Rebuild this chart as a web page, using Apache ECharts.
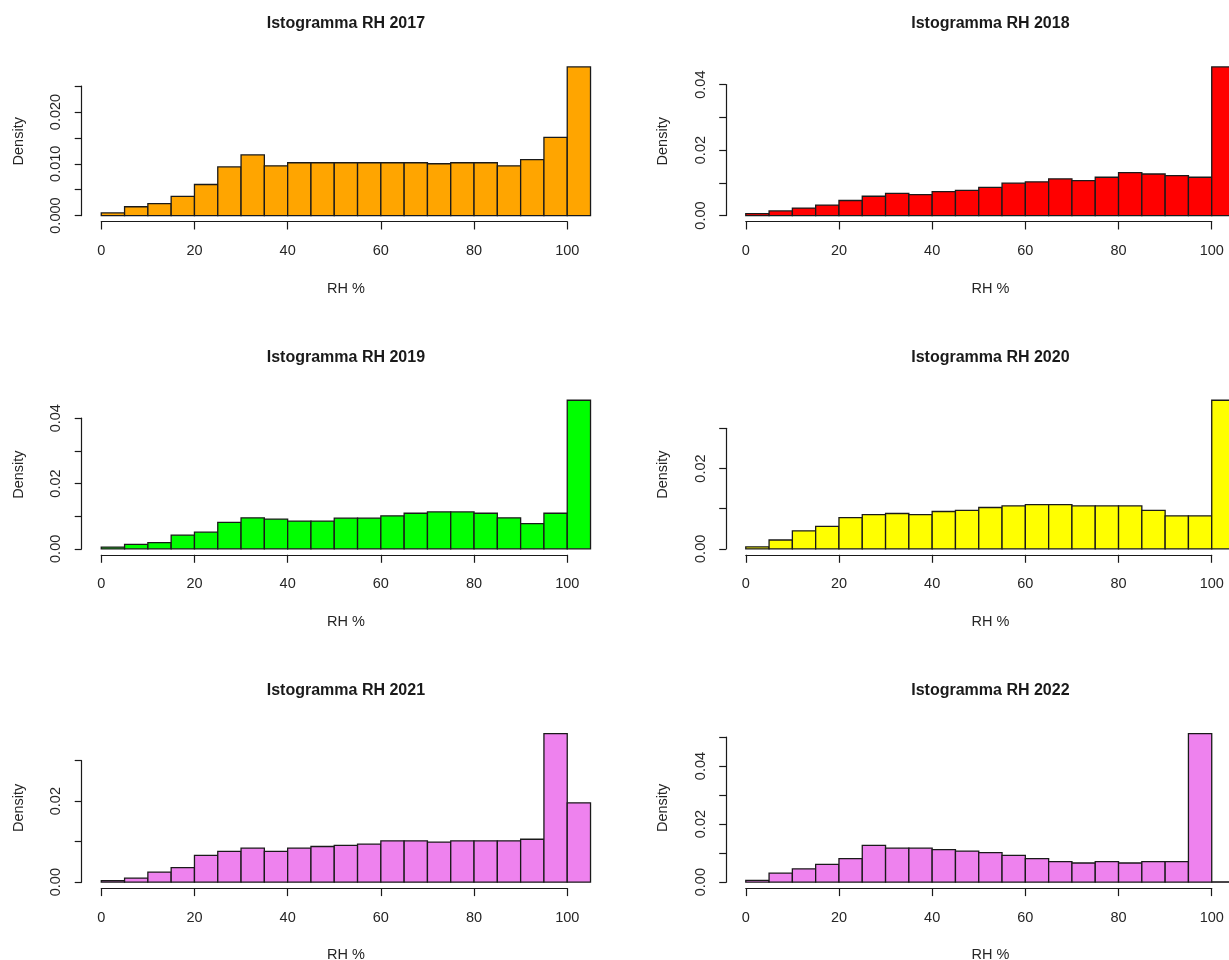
<!DOCTYPE html>
<html>
<head>
<meta charset="utf-8">
<title>Istogrammi RH 2017-2022</title>
<script src="https://cdn.jsdelivr.net/npm/echarts@6/dist/echarts.min.js"></script>
<style>
  html, body { margin: 0; padding: 0; background: #ffffff; }
  #chart { width: 1229px; height: 960px; }
</style>
</head>
<body>
<div id="chart"></div>
<script>
// Bin edges of the relative-humidity histograms (5 % wide bins)
const binEdges = [0, 5, 10, 15, 20, 25, 30, 35, 40, 45, 50, 55, 60, 65, 70, 75, 80, 85, 90, 95, 100, 105];

// Density of each bin, one array per year
const density2017 = [0.0005, 0.0017, 0.0023, 0.0037, 0.0060, 0.0094, 0.0117, 0.0096, 0.0102, 0.0102, 0.0102,
                     0.0102, 0.0102, 0.0102, 0.0100, 0.0102, 0.0102, 0.0096, 0.0108, 0.0151, 0.0287];
const density2018 = [0.0006, 0.0014, 0.0023, 0.0032, 0.0046, 0.0059, 0.0068, 0.0064, 0.0073, 0.0077, 0.0086,
                     0.0099, 0.0103, 0.0112, 0.0107, 0.0117, 0.0131, 0.0127, 0.0122, 0.0117, 0.0454];
const density2019 = [0.0005, 0.0014, 0.0019, 0.0042, 0.0051, 0.0081, 0.0095, 0.0091, 0.0085, 0.0085, 0.0094,
                     0.0094, 0.0101, 0.0109, 0.0113, 0.0113, 0.0109, 0.0095, 0.0077, 0.0109, 0.0455];
const density2020 = [0.0005, 0.0022, 0.0045, 0.0056, 0.0078, 0.0085, 0.0088, 0.0085, 0.0093, 0.0096, 0.0103,
                     0.0107, 0.0110, 0.0110, 0.0107, 0.0107, 0.0107, 0.0096, 0.0082, 0.0082, 0.0370];
const density2021 = [0.0004, 0.0010, 0.0025, 0.0036, 0.0066, 0.0076, 0.0084, 0.0076, 0.0084, 0.0088, 0.0091,
                     0.0094, 0.0102, 0.0102, 0.0099, 0.0102, 0.0102, 0.0102, 0.0106, 0.0367, 0.0196];
const density2022 = [0.0006, 0.0031, 0.0046, 0.0061, 0.0081, 0.0127, 0.0117, 0.0117, 0.0112, 0.0107, 0.0102,
                     0.0092, 0.0081, 0.0071, 0.0066, 0.0071, 0.0066, 0.0071, 0.0071, 0.0512, 0.0001];

const years = ['2017', '2018', '2019', '2020', '2021', '2022'];
const densities = [density2017, density2018, density2019, density2020, density2021, density2022];
const fillColors = ['#FFA500', '#FF0000', '#00FF00', '#FFFF00', '#EE82EE', '#EE82EE'];

// Tick labels
const xTickValues = [0, 20, 40, 60, 80, 100];
const yTickStep = [0.005, 0.01, 0.01, 0.01, 0.01, 0.01];
const yTickTop = [0.025, 0.04, 0.04, 0.03, 0.03, 0.05];
const yLabelDigits = [3, 2, 2, 2, 2, 2];

const titlePrefix = 'Istogramma RH ';
const xAxisTitle = 'RH %';
const yAxisTitle = 'Density';

// ---- layout of the 3 x 2 panel grid ----
const FIG_W = 644.5, FIG_H = 333.3;
const PLOT = { left: 81.7, top: 61.0, width: 528.4, height: 160.5 };
const X_RANGE = [-4.2, 109.2];           // x range incl. 4 % padding each side
const FONT = '"Liberation Sans", Arial, Helvetica, sans-serif';
const LABEL_SIZE = 14.5;
const INK = '#1a1a1a';
const LABEL_INK = '#262626';

const grids = [], xAxes = [], yAxes = [], series = [], graphics = [];

densities.forEach((dens, i) => {
  const col = i % 2, row = Math.floor(i / 2);
  const fx = col * FIG_W, fy = row * FIG_H;
  const maxD = Math.max(...dens);
  const pxX = PLOT.width / (X_RANGE[1] - X_RANGE[0]);
  const pxY = PLOT.height / (1.08 * maxD);
  const plotLeft = fx + PLOT.left;
  const plotBottom = fy + PLOT.top + PLOT.height;
  const zeroY = plotBottom - 0.04 * maxD * pxY;
  const gridLeft = plotLeft + (0 - X_RANGE[0]) * pxX;
  const gridHeight = yTickTop[i] * pxY;

  grids.push({
    left: gridLeft,
    top: zeroY - gridHeight,
    width: (xTickValues[xTickValues.length - 1] - xTickValues[0]) * pxX,
    height: gridHeight,
    containLabel: false
  });

  xAxes.push({
    type: 'value', gridIndex: i, position: 'bottom',
    min: xTickValues[0], max: xTickValues[xTickValues.length - 1], interval: 20,
    offset: plotBottom - zeroY,
    splitLine: { show: false },
    axisLine: { show: true, onZero: false, lineStyle: { color: INK, width: 1.2 } },
    axisTick: { show: true, length: 8, lineStyle: { color: INK, width: 1.2 } },
    axisLabel: { color: LABEL_INK, fontSize: LABEL_SIZE, fontFamily: FONT, margin: 22 }
  });

  const step = yTickStep[i], digits = yLabelDigits[i];
  yAxes.push({
    type: 'value', gridIndex: i, position: 'left',
    min: 0, max: yTickTop[i], interval: step,
    offset: gridLeft - plotLeft,
    splitLine: { show: false },
    axisLine: { show: true, onZero: false, lineStyle: { color: INK, width: 1.2 } },
    axisTick: { show: true, length: 7, lineStyle: { color: INK, width: 1.2 } },
    axisLabel: {
      color: LABEL_INK, fontSize: LABEL_SIZE, fontFamily: FONT, rotate: 90, margin: 18,
      formatter: v => (Math.round(v / step) % 2 === 0 ? v.toFixed(digits) : '')
    }
  });

  const bins = dens.map((d, k) => [binEdges[k], binEdges[k + 1], d]);
  const fill = fillColors[i];
  series.push({
    type: 'custom', xAxisIndex: i, yAxisIndex: i,
    clip: false, silent: true,
    encode: { x: [0, 1], y: 2 },
    data: bins,
    renderItem: (params, api) => {
      const a = api.coord([api.value(0), 0]);
      const b = api.coord([api.value(1), api.value(2)]);
      return {
        type: 'rect',
        shape: { x: a[0], y: b[1], width: b[0] - a[0], height: a[1] - b[1] },
        style: { fill: fill, stroke: INK, lineWidth: 1.3 }
      };
    }
  });

  const centerX = plotLeft + PLOT.width / 2;
  graphics.push({
    type: 'text', x: centerX, y: fy + 24,
    style: { text: titlePrefix + years[i], fill: INK, font: 'bold 16px ' + FONT,
             align: 'center', verticalAlign: 'middle', textAlign: 'center', textVerticalAlign: 'middle' }
  });
  graphics.push({
    type: 'text', x: centerX, y: fy + 288.5,
    style: { text: xAxisTitle, fill: LABEL_INK, font: LABEL_SIZE + 'px ' + FONT,
             align: 'center', verticalAlign: 'middle', textAlign: 'center', textVerticalAlign: 'middle' }
  });
  graphics.push({
    type: 'text', x: fx + 18.5, y: fy + PLOT.top + PLOT.height / 2, rotation: Math.PI / 2,
    style: { text: yAxisTitle, fill: LABEL_INK, font: LABEL_SIZE + 'px ' + FONT,
             align: 'center', verticalAlign: 'middle', textAlign: 'center', textVerticalAlign: 'middle' }
  });
});

const chart = echarts.init(document.getElementById('chart'), null, { renderer: 'canvas' });
chart.setOption({
  backgroundColor: '#ffffff',
  animation: false,
  grid: grids,
  xAxis: xAxes,
  yAxis: yAxes,
  series: series,
  graphic: { elements: graphics }
});
</script>
</body>
</html>
